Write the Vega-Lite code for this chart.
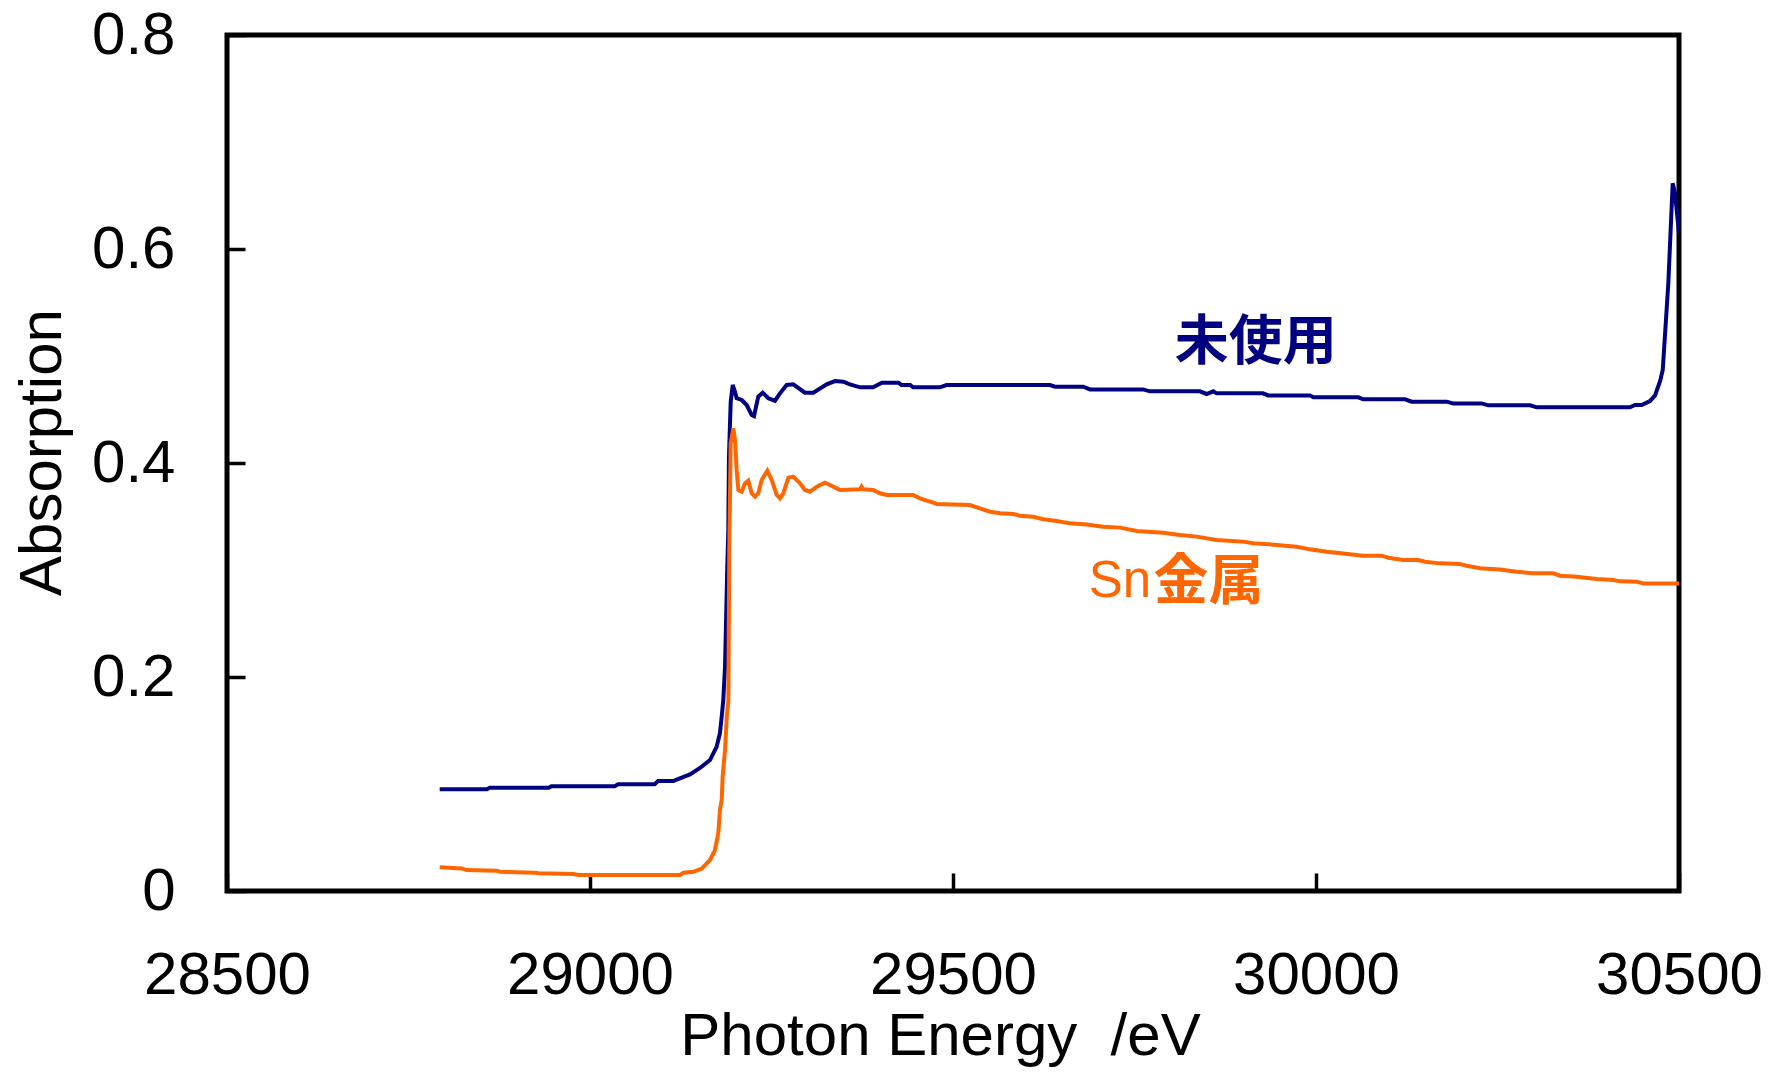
{
  "$schema": "https://vega.github.io/schema/vega-lite/v6.json",
  "width": 1452,
  "height": 856,
  "autosize": {"type": "none"},
  "padding": {"left": 227, "top": 35, "right": 97, "bottom": 184},
  "background": "white",
  "config": {
    "font": "Liberation Sans",
    "view": {"stroke": "black", "strokeWidth": 5},
    "axis": {"grid": false, "domain": false, "tickColor": "black", "tickWidth": 3.5, "tickSize": -18, "labelColor": "black", "labelFontSize": 60, "labelFont": "Liberation Sans", "titleFont": "Liberation Sans", "titleFontSize": 60, "titleFontWeight": "normal", "titleColor": "black"}
  },
  "datasets": {
    "unused": [
      {"E": 28793, "A": 0.095}, {"E": 28858, "A": 0.095}, {"E": 28862, "A": 0.0965}, {"E": 28943, "A": 0.0965}, {"E": 28947, "A": 0.098},
      {"E": 29034, "A": 0.098}, {"E": 29038.6, "A": 0.0997}, {"E": 29089, "A": 0.0997},
      {"E": 29093.7, "A": 0.1028}, {"E": 29115, "A": 0.1028}, {"E": 29119.4, "A": 0.104}, {"E": 29137.7, "A": 0.109}, {"E": 29151.5, "A": 0.115},
      {"E": 29165.3, "A": 0.1224}, {"E": 29174.5, "A": 0.135}, {"E": 29179, "A": 0.1476}, {"E": 29181.4, "A": 0.163},
      {"E": 29183.6, "A": 0.1785}, {"E": 29186, "A": 0.21}, {"E": 29189, "A": 0.3}, {"E": 29190.5, "A": 0.337},
      {"E": 29191.4, "A": 0.406}, {"E": 29193.8, "A": 0.457}, {"E": 29196.6, "A": 0.473}, {"E": 29199.7, "A": 0.4666},
      {"E": 29202, "A": 0.4605}, {"E": 29209, "A": 0.4589}, {"E": 29215.8, "A": 0.4542}, {"E": 29222.7, "A": 0.4449},
      {"E": 29225.9, "A": 0.4439}, {"E": 29231.8, "A": 0.462}, {"E": 29237.9, "A": 0.4657}, {"E": 29245.6, "A": 0.4605},
      {"E": 29254.8, "A": 0.4582}, {"E": 29261.7, "A": 0.4651}, {"E": 29270.9, "A": 0.4729}, {"E": 29280, "A": 0.4735},
      {"E": 29296, "A": 0.4657}, {"E": 29307.6, "A": 0.4657}, {"E": 29326, "A": 0.4735}, {"E": 29337.5, "A": 0.4766},
      {"E": 29349, "A": 0.476}, {"E": 29358, "A": 0.4735}, {"E": 29372, "A": 0.4707}, {"E": 29390, "A": 0.4707},
      {"E": 29402, "A": 0.475}, {"E": 29425, "A": 0.475}, {"E": 29429, "A": 0.4729}, {"E": 29441, "A": 0.4729},
      {"E": 29445, "A": 0.4707}, {"E": 29482, "A": 0.4707}, {"E": 29491, "A": 0.4729}, {"E": 29633.6, "A": 0.4729},
      {"E": 29640.5, "A": 0.4713}, {"E": 29679.5, "A": 0.4713}, {"E": 29688.7, "A": 0.4688}, {"E": 29762, "A": 0.4688},
      {"E": 29771, "A": 0.467}, {"E": 29840, "A": 0.467}, {"E": 29849.4, "A": 0.4645}, {"E": 29858.5, "A": 0.467},
      {"E": 29863, "A": 0.4651}, {"E": 29927, "A": 0.4651}, {"E": 29934, "A": 0.4632}, {"E": 29991.7, "A": 0.4632},
      {"E": 29996.3, "A": 0.4614}, {"E": 30058.3, "A": 0.4614}, {"E": 30065, "A": 0.4595}, {"E": 30122.6, "A": 0.4595},
      {"E": 30131.8, "A": 0.4573}, {"E": 30180, "A": 0.4573}, {"E": 30189, "A": 0.4557}, {"E": 30228, "A": 0.4557},
      {"E": 30237.3, "A": 0.4539}, {"E": 30294.8, "A": 0.4539}, {"E": 30304, "A": 0.452}, {"E": 30432.5, "A": 0.452},
      {"E": 30439.4, "A": 0.4542}, {"E": 30448.6, "A": 0.4542}, {"E": 30460, "A": 0.4579}, {"E": 30467, "A": 0.4632},
      {"E": 30474, "A": 0.4766}, {"E": 30477.6, "A": 0.4869}, {"E": 30485.3, "A": 0.568}, {"E": 30491.3, "A": 0.6614},
      {"E": 30494.5, "A": 0.652}, {"E": 30500, "A": 0.6147}
    ],
    "sn": [
      {"E": 28793, "A": 0.0221}, {"E": 28823.3, "A": 0.0211}, {"E": 28830, "A": 0.0196}, {"E": 28871.5, "A": 0.019},
      {"E": 28876, "A": 0.018}, {"E": 28924, "A": 0.017}, {"E": 28928.8, "A": 0.0165}, {"E": 28977, "A": 0.0158},
      {"E": 28984, "A": 0.015}, {"E": 29124, "A": 0.015}, {"E": 29128.8, "A": 0.017}, {"E": 29142.6, "A": 0.018},
      {"E": 29154, "A": 0.021}, {"E": 29165.3, "A": 0.029}, {"E": 29172, "A": 0.038}, {"E": 29176.7, "A": 0.054},
      {"E": 29179, "A": 0.0757}, {"E": 29181.4, "A": 0.085}, {"E": 29182.7, "A": 0.107}, {"E": 29186, "A": 0.132},
      {"E": 29188.4, "A": 0.163}, {"E": 29190.6, "A": 0.178}, {"E": 29191.9, "A": 0.3218}, {"E": 29193.8, "A": 0.4184},
      {"E": 29197.4, "A": 0.4324}, {"E": 29199.7, "A": 0.4215}, {"E": 29202, "A": 0.3935}, {"E": 29204.3, "A": 0.3748},
      {"E": 29209, "A": 0.3732}, {"E": 29213.5, "A": 0.381}, {"E": 29218, "A": 0.3835}, {"E": 29222.7, "A": 0.3717},
      {"E": 29227.3, "A": 0.3685}, {"E": 29231.8, "A": 0.3717}, {"E": 29236.5, "A": 0.3841}, {"E": 29244.2, "A": 0.3928},
      {"E": 29250.3, "A": 0.3841}, {"E": 29257.2, "A": 0.3701}, {"E": 29261.7, "A": 0.367}, {"E": 29266.3, "A": 0.3717},
      {"E": 29273.2, "A": 0.3863}, {"E": 29280, "A": 0.3872}, {"E": 29289.3, "A": 0.381}, {"E": 29296, "A": 0.3748},
      {"E": 29303, "A": 0.3732}, {"E": 29312.3, "A": 0.3779}, {"E": 29323.7, "A": 0.3816}, {"E": 29330.6, "A": 0.3794},
      {"E": 29339.8, "A": 0.3763}, {"E": 29344.4, "A": 0.3748}, {"E": 29372, "A": 0.3754}, {"E": 29374, "A": 0.3779},
      {"E": 29376.5, "A": 0.3754}, {"E": 29390, "A": 0.3748}, {"E": 29399.4, "A": 0.3717}, {"E": 29408.7, "A": 0.3701},
      {"E": 29445, "A": 0.3701}, {"E": 29454.5, "A": 0.367}, {"E": 29463.8, "A": 0.3648}, {"E": 29473, "A": 0.3629},
      {"E": 29477.5, "A": 0.3617}, {"E": 29523.4, "A": 0.3607}, {"E": 29537, "A": 0.3576}, {"E": 29551, "A": 0.3545},
      {"E": 29564.7, "A": 0.353}, {"E": 29583, "A": 0.3523}, {"E": 29592.3, "A": 0.3508}, {"E": 29610.6, "A": 0.3498},
      {"E": 29624.4, "A": 0.3474}, {"E": 29642.8, "A": 0.3458}, {"E": 29661.2, "A": 0.3436}, {"E": 29684.2, "A": 0.3426},
      {"E": 29707, "A": 0.3405}, {"E": 29730, "A": 0.3396}, {"E": 29753, "A": 0.3364}, {"E": 29789.7, "A": 0.3349},
      {"E": 29812.7, "A": 0.3327}, {"E": 29835.7, "A": 0.3312}, {"E": 29863, "A": 0.328}, {"E": 29900, "A": 0.3265},
      {"E": 29913.6, "A": 0.325}, {"E": 29946, "A": 0.3234}, {"E": 29973.4, "A": 0.3218}, {"E": 29991.7, "A": 0.3193},
      {"E": 30014.7, "A": 0.3171}, {"E": 30037.6, "A": 0.3155}, {"E": 30065, "A": 0.3134}, {"E": 30090.5, "A": 0.3134},
      {"E": 30099.6, "A": 0.3115}, {"E": 30120, "A": 0.3093}, {"E": 30141, "A": 0.3093}, {"E": 30150, "A": 0.3077},
      {"E": 30170.8, "A": 0.3062}, {"E": 30198.3, "A": 0.3056}, {"E": 30207.6, "A": 0.304}, {"E": 30226, "A": 0.3016},
      {"E": 30253.4, "A": 0.3005}, {"E": 30276.4, "A": 0.2984}, {"E": 30299.3, "A": 0.2969}, {"E": 30327, "A": 0.2969},
      {"E": 30336, "A": 0.2947}, {"E": 30359, "A": 0.2937}, {"E": 30386.6, "A": 0.2916}, {"E": 30409.5, "A": 0.2907},
      {"E": 30418.7, "A": 0.2894}, {"E": 30441.7, "A": 0.2891}, {"E": 30450.8, "A": 0.2875}, {"E": 30500, "A": 0.2875}
    ],
    "labels": [
      {"E": 29917, "A": 0.511, "t": "未使用", "k": "navy"},
      {"E": 29773, "A": 0.2885, "t": "Sn", "k": "sn"},
      {"E": 29776, "A": 0.2885, "t": "金属", "k": "kin"}
    ]
  },
  "layer": [
    {
      "data": {"name": "unused"},
      "mark": {"type": "line", "color": "#000080", "strokeWidth": 4, "clip": true},
      "encoding": {
        "x": {"field": "E", "type": "quantitative", "scale": {"domain": [28500, 30500], "nice": false, "zero": false},
          "axis": {"values": [28500, 29000, 29500, 30000, 30500], "format": "d", "labelPadding": 73, "labelFlush": false, "labelOverlap": false,
            "title": "Photon Energy\u00a0\u00a0/eV", "titleX": 713, "titleY": 163, "titleBaseline": "alphabetic", "titleAnchor": null}},
        "y": {"field": "A", "type": "quantitative", "scale": {"domain": [0, 0.8], "nice": false},
          "axis": {"values": [0, 0.2, 0.4, 0.6, 0.8], "format": ".1~f", "labelPadding": 70, "labelFlush": false, "labelOverlap": false, "labelBaseline": "middle",
            "title": "Absorption", "titleX": -167, "titleY": 417, "titleBaseline": "alphabetic", "titleAngle": -90, "titleAlign": "center"}}
      }
    },
    {
      "data": {"name": "sn"},
      "mark": {"type": "line", "color": "#ff6600", "strokeWidth": 4, "clip": true},
      "encoding": {
        "x": {"field": "E", "type": "quantitative"},
        "y": {"field": "A", "type": "quantitative"}
      }
    },
    {
      "data": {"name": "labels"},
      "transform": [{"filter": "datum.k === 'navy'"}],
      "mark": {"type": "text", "font": "Noto Sans CJK JP", "fontWeight": "bold", "fontSize": 54, "color": "#000080", "align": "center", "baseline": "middle"},
      "encoding": {"x": {"field": "E", "type": "quantitative"}, "y": {"field": "A", "type": "quantitative"}, "text": {"field": "t"}}
    },
    {
      "data": {"name": "labels"},
      "transform": [{"filter": "datum.k === 'sn'"}],
      "mark": {"type": "text", "font": "Liberation Sans", "fontSize": 51, "color": "#ff6600", "align": "right", "baseline": "middle"},
      "encoding": {"x": {"field": "E", "type": "quantitative"}, "y": {"field": "A", "type": "quantitative"}, "text": {"field": "t"}}
    },
    {
      "data": {"name": "labels"},
      "transform": [{"filter": "datum.k === 'kin'"}],
      "mark": {"type": "text", "font": "Noto Sans CJK JP", "fontWeight": "bold", "fontSize": 55, "color": "#ff6600", "align": "left", "baseline": "middle"},
      "encoding": {"x": {"field": "E", "type": "quantitative"}, "y": {"field": "A", "type": "quantitative"}, "text": {"field": "t"}}
    }
  ]
}
